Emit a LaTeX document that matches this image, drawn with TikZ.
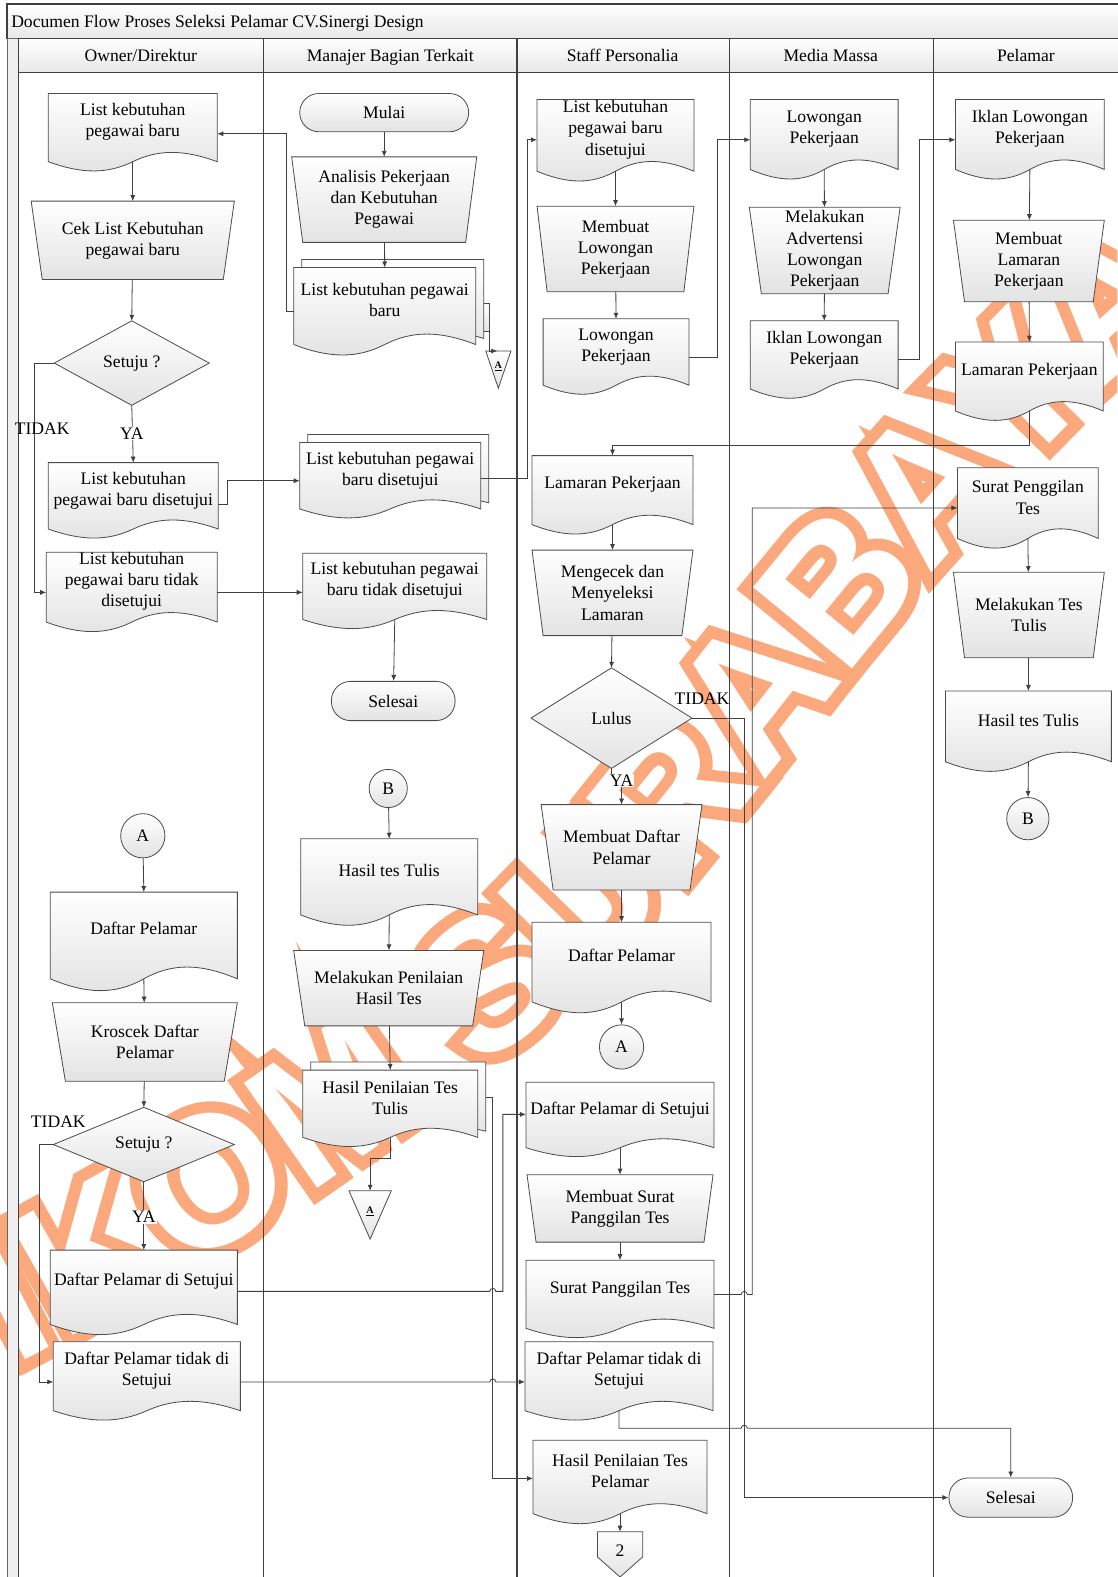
\documentclass[tikz,border=0pt]{standalone}
\usepackage{fontspec}
\setmainfont{Liberation Serif}
\newfontfamily\wmfam{Liberation Sans}
\usetikzlibrary{arrows.meta,calc,decorations.text}
\definecolor{wm}{RGB}{251,168,125}
\newcommand\fs{\fontsize{17.5}{21}\selectfont}
\newcommand\wmfont{\wmfam\bfseries\fontsize{185}{185}\selectfont}
\newcommand\wmon{\special{pdf:literal direct 1 Tr 24 w}}
\newcommand\wmoff{\special{pdf:literal direct 0 Tr}}
\tikzset{
 shp/.style={draw=black!70, line width=0.8pt, top color=white, bottom color=black!11},
 anc/.style={draw=none, inner sep=0pt, outer sep=0pt},
 txt/.style={font=\fs, align=center, inner sep=0pt, text=black},
 arr/.style={draw=black!75, line width=0.8pt, -{Latex[length=6pt,width=5pt]}},
 ln/.style={draw=black!75, line width=0.8pt},
 lbl/.style={font=\fs, inner sep=1pt},
 term/.style={shp, rounded corners=19pt, font=\fs, inner sep=0pt},
 circ/.style={shp, circle, font=\fs, inner sep=0pt},
 lane/.style={draw=black!75, line width=1.2pt},
 hdr/.style={draw=black!75, line width=1.2pt, top color=white, bottom color=black!9},
 wmark/.style={decorate, decoration={text along path, text={|\wmfont#1|STIKOM SURABAYA}, raise=-62pt}},
}
\def\wmpath{(-230,1400) .. controls (100,1270) and (400,1060) .. (556,918) .. controls (712,776) and (900,420) .. (1300,140)}
% document path
\newcommand\DocPath[4]{%
 \pgfmathsetmacro\dW{#3-#1}%
 \pgfmathsetmacro\dA{0.12*(#4-#2)}%
 \pgfmathsetmacro\dS{#4-\dA}%
 \pgfmathsetmacro\dX{(#1+#3)/2}%
 \pgfmathsetmacro\dK{1.33*\dA}%
 \path[shp] (#1,#2) -- (#3,#2) -- (#3,\dS) .. controls ({#3-0.2*\dW},{\dS-\dK}) and ({#3-0.35*\dW},{\dS-\dK}) .. (\dX,\dS) .. controls ({\dX-0.15*\dW},{\dS+\dK}) and ({\dX-0.3*\dW},{\dS+\dK}) .. (#1,\dS) -- cycle;}
\newcommand\Doc[6]{%
 \DocPath{#2}{#3}{#4}{#5}%
 \pgfmathsetmacro\dH{\dS-#3}%
 \node[anc, minimum width=\dW pt, minimum height=\dH pt] (#1) at (\dX,{(#3+\dS)/2}) {};
 \node[txt] (#1-t) at (\dX,{#3+0.37*(#5-#3)}) {#6};}
\newcommand\MDoc[6]{%
 \DocPath{#2+8}{#3-8}{#4+8}{#5-8}%
 \Doc{#1}{#2}{#3}{#4}{#5}{#6}}
\newcommand\Trap[7]{%
 \path[shp] (#2,#3) -- (#4,#3) -- ({#4-#6},#5) -- ({#2+#6},#5) -- cycle;
 \pgfmathsetmacro\dW{#4-#2}\pgfmathsetmacro\dH{#5-#3}%
 \node[anc, minimum width=\dW pt, minimum height=\dH pt] (#1) at ({(#2+#4)/2},{(#3+#5)/2}) {};
 \node[txt] (#1-t) at (#1) {#7};}
\newcommand\Dia[6]{%
 \path[shp] ({#2-#4},#3) -- (#2,{#3-#5}) -- ({#2+#4},#3) -- (#2,{#3+#5}) -- cycle;
 \pgfmathsetmacro\dW{2*#4}\pgfmathsetmacro\dH{2*#5}%
 \node[anc, minimum width=\dW pt, minimum height=\dH pt] (#1) at (#2,#3) {};
 \node[txt] (#1-t) at (#1) {#6};}
\newcommand\Tri[5]{%
 \path[shp] (#2,#3) -- (#4,#3) -- ({(#2+#4)/2},#5) -- cycle;
 \pgfmathsetmacro\dW{#4-#2}\pgfmathsetmacro\dH{#5-#3}%
 \node[anc, minimum width=\dW pt, minimum height=\dH pt] (#1) at ({(#2+#4)/2},{(#3+#5)/2}) {};
 \node[font=\fontsize{10}{11}\selectfont\bfseries, inner sep=0pt] (#1-t) at ({(#2+#4)/2},{#3+0.42*(#5-#3)}) {\underline{A}};}
\begin{document}
\begin{tikzpicture}[x=1pt,y=-1pt]
\useasboundingbox (0,0) rectangle (1111,1568);
\fill[white] (0,0) rectangle (1111,1568);
% ---------- watermark (orange outline, hollow letters) ----------
\begin{scope}
\clip (0,0) rectangle (1111,1568);
\path[wmark=\wmon, decoration={text color=wm}] \wmpath;
\path[wmark=\wmoff, decoration={text color=white}] \wmpath;
\end{scope}
\node[inner sep=0pt] (wmreset) at (2,2) {\wmoff};
% ---------- frame ----------
\path[hdr] (7,4) rectangle (1116,38);
\node[lbl, anchor=base west] (title) at (10,27) {Documen Flow Proses Seleksi Pelamar CV.Sinergi Design};
\path[draw=black!60, line width=0.8pt, fill=black!6] (7,38) rectangle (18,1575);
\path[hdr] (18,38) rectangle (262,72);
\path[hdr] (262,38) rectangle (514,72);
\path[hdr] (514,38) rectangle (725,72);
\path[hdr] (725,38) rectangle (928,72);
\path[hdr] (928,38) rectangle (1116,72);
\node[lbl, anchor=base] (h1) at (140,61) {Owner/Direktur};
\node[lbl, anchor=base] (h2) at (388,61) {Manajer Bagian Terkait};
\node[lbl, anchor=base] (h3) at (619,61) {Staff Personalia};
\node[lbl, anchor=base] (h4) at (826,61) {Media Massa};
\node[lbl, anchor=base] (h5) at (1020,61) {Pelamar};
\foreach \x in {18,262,514,725,928} \draw[lane] (\x,72) -- (\x,1575);
% ---------- Owner ----------
\Doc{o1}{48}{93}{216}{170}{List kebutuhan\\pegawai baru}
\Trap{o2}{31}{200}{233}{278}{11}{Cek List Kebutuhan\\pegawai baru}
\Dia{o3}{131}{361}{77}{42}{Setuju ?}
\Doc{o4}{48}{460}{217}{535}{List kebutuhan\\pegawai baru disetujui}
\Doc{o5}{46}{549}{216}{628}{List kebutuhan\\pegawai baru tidak\\disetujui}
\node[circ, minimum size=44pt] (oA) at (142,831) {A};
\Doc{o6}{50}{887}{236}{985}{Daftar Pelamar}
\Trap{o7}{52}{997}{236}{1075}{13}{Kroscek Daftar\\Pelamar}
\Dia{o8}{143}{1138}{90}{37}{Setuju ?}
\Doc{o9}{50}{1243}{236}{1327}{Daftar Pelamar di Setujui}
\Doc{o10}{53}{1334}{239}{1412}{Daftar Pelamar tidak di\\Setujui}
% ---------- Manajer ----------
\node[term, minimum width=168pt, minimum height=38pt] (m1) at (382,112) {Mulai};
\Trap{m2}{290}{156}{474}{241}{11}{Analisis Pekerjaan\\dan Kebutuhan\\Pegawai}
\path[shp] (481,302) -- (487,302) -- (487,330) -- (481,330);
\MDoc{m3}{292}{266}{473}{353}{List kebutuhan pegawai\\baru}
\coordinate (m3c) at (487,330);
\Tri{m3A}{483}{349}{508}{386}
\MDoc{m4}{298}{440}{478}{515}{List kebutuhan pegawai\\baru disetujui}
\Doc{m5}{301}{550}{484}{625}{List kebutuhan pegawai\\baru tidak disetujui}
\node[term, minimum width=123pt, minimum height=39pt] (m6) at (391,697) {Selesai};
\node[circ, minimum size=38pt] (mB) at (386,784) {B};
\Doc{m7}{299}{834}{475}{920}{Hasil tes Tulis}
\Trap{m8}{292}{945}{481}{1020}{11}{Melakukan Penilaian\\Hasil Tes}
\MDoc{m9}{301}{1064}{475}{1140}{Hasil Penilaian Tes\\Tulis}
\coordinate (m9c) at (490,1091);
\draw[ln] (483,1091) -- (m9c);
\Tri{m9A}{347}{1184}{389}{1232}
% ---------- Staff ----------
\Doc{s1}{534}{99}{690}{180}{List kebutuhan\\pegawai baru\\disetujui}
\Trap{s2}{534}{205}{690}{290}{10}{Membuat\\Lowongan\\Pekerjaan}
\Doc{s3}{540}{317}{685}{392}{Lowongan\\Pekerjaan}
\Doc{s4}{529}{453}{689}{531}{Lamaran Pekerjaan}
\Trap{s5}{529}{547}{689}{632}{11}{Mengecek dan\\Menyeleksi\\Lamaran}
\Dia{s6}{608}{714}{80}{50}{Lulus}
\Trap{s7}{538}{800}{698}{885}{12}{Membuat Daftar\\Pelamar}
\Doc{s8}{529}{917}{707}{1007}{Daftar Pelamar}
\node[circ, minimum size=44pt] (sA) at (618,1041) {A};
\Doc{s9}{523}{1076}{710}{1150}{Daftar Pelamar di Setujui}
\Trap{s10}{524}{1168}{709}{1235}{9}{Membuat Surat\\Panggilan Tes}
\Doc{s11}{523}{1253}{710}{1330}{Surat Panggilan Tes}
\Doc{s12}{522}{1334}{709}{1412}{Daftar Pelamar tidak di\\Setujui}
\Doc{s13}{530}{1432}{703}{1515}{Hasil Penilaian Tes\\Pelamar}
\path[shp] (594,1523) -- (639,1523) -- (639,1548) -- (616.5,1568) -- (594,1548) -- cycle;
\node[anc, minimum width=45pt, minimum height=45pt] (s14) at (616.5,1545.5) {};
\node[txt] (s14-t) at (616.5,1542) {2};
% ---------- Media ----------
\Doc{d1}{746}{99}{893}{178}{Lowongan\\Pekerjaan}
\Trap{d2}{745}{206}{895}{292}{12}{Melakukan\\Advertensi\\Lowongan\\Pekerjaan}
\Doc{d3}{746}{319}{893}{396}{Iklan Lowongan\\Pekerjaan}
% ---------- Pelamar ----------
\Doc{p1}{950}{99}{1098}{178}{Iklan Lowongan\\Pekerjaan}
\Trap{p2}{948}{219}{1098}{300}{11}{Membuat\\Lamaran\\Pekerjaan}
\Doc{p3}{950}{340}{1097}{418}{Lamaran Pekerjaan}
\Doc{p4}{952}{465}{1092}{545}{Surat Penggilan\\Tes}
\Trap{p5}{948}{569}{1098}{654}{11}{Melakukan Tes\\Tulis}
\Doc{p6}{940}{687}{1105}{767}{Hasil tes Tulis}
\node[circ, minimum size=42pt] (pB) at (1022,814) {B};
\node[term, minimum width=123pt, minimum height=39pt] (pEnd) at (1005,1489) {Selesai};
% ---------- connectors ----------
\draw[arr] (m1) -- (m2);
\draw[arr] (m2) -- (m3.north);
\draw[arr] (m3.west |- 0,310) -| (285,133) -- (o1.east |- 0,133);
\draw[arr] (m3c) |- ([xshift=-1pt]m3A.north);
\draw[arr] (o1.south) -- (o2);
\draw[arr] (o2) -- (o3.north);
\draw[arr] (o3.south) -- (o4.north);
\node[lbl, fill=white] (ya1) at (131,431) {YA};
\draw[arr] (o3.west) -- ++(-20,0) |- (o5.west |- 0,589);
\node[lbl] (ti1) at (42,426) {TIDAK};
\draw[arr] (o4.east |- 0,502) -- (226,502) |- (m4.west |- 0,478);
\draw[arr] (o5.east |- 0,589) -- (m5.west |- 0,589);
\draw[arr] (m4.east |- 0,476) -- (524,476) |- (s1.west |- 0,139);
\draw[arr] (m5.south) -- (m6);
\draw[arr] (s1.south) -- (s2);
\draw[arr] (s2) -- (s3.north);
\draw[arr] (s3.east |- 0,355) -- (713,355) |- (d1.west |- 0,139);
\draw[arr] (d1.south) -- (d2);
\draw[arr] (d2) -- (d3.north);
\draw[arr] (d3.east |- 0,357) -- (914,357) |- (p1.west |- 0,139);
\draw[arr] (p1.south) -- (p2);
\draw[arr] (p2) -- (p3.north);
\draw[arr] (p3.south) -- (p3.south |- 0,443) -| (s4.north);
\draw[arr] (s4.south) -- (s5);
\draw[arr] (s5) -- (s6.north);
\draw[arr] (s6.south) -- (s6.south |- 0,782) -| (s7.north);
\node[lbl, fill=white] (ya3) at (618,776) {YA};
\draw[arr] (s6.east) -- (740,714) |- (pEnd.west);
\node[lbl] (ti3) at (698,695) {TIDAK};
\draw[arr] (s7) -- (s8.north);
\draw[arr] (s8.south) -- (sA);
\draw[arr] (oA) -- (o6.north);
\draw[arr] (o6.south) -- (o7);
\draw[arr] (o7) -- (o8.north);
\draw[arr] (o8.south) -- (o9.north);
\node[lbl, fill=white] (ya2) at (143,1210) {YA};
\draw[arr] (o8.west) -- ++(-14,0) |- (o10.west |- 0,1374);
\node[lbl] (ti2) at (58,1115) {TIDAK};
\draw[arr] (mB) -- (m7.north);
\draw[arr] (m7.south) -- (m8);
\draw[arr] (m8) -- (m9.north);
\draw[arr] (m9.south) -- ++(0,21) -| (m9A.north);
\draw[arr] (m9c) |- (s13.west |- 0,1470);
\draw[arr] (o9.east |- 0,1284) -- (487,1284) arc[start angle=180, end angle=360, radius=3] -- (500,1284) |- (s9.west |- 0,1108);
\draw[arr] (o10.east |- 0,1374) -- (487,1374) arc[start angle=180, end angle=360, radius=3] -- (s12.west |- 0,1374);
\draw[arr] (s9.south) -- (s10);
\draw[arr] (s10) -- (s11.north);
\draw[arr] (s11.east |- 0,1287) -- (737,1287) arc[start angle=180, end angle=360, radius=3] -- (748,1287) |- (p4.west |- 0,505);
\draw[arr] (s12.south) -- (s12.south |- 0,1420) -- (737,1420) arc[start angle=180, end angle=360, radius=3] -| (pEnd.north);
\draw[arr] (s13.south) -- (s14.north);
\draw[arr] (p4.south) -- (p5);
\draw[arr] (p5) -- (p6.north);
\draw[arr] (p6.south) -- (pB);
\end{tikzpicture}
\end{document}
